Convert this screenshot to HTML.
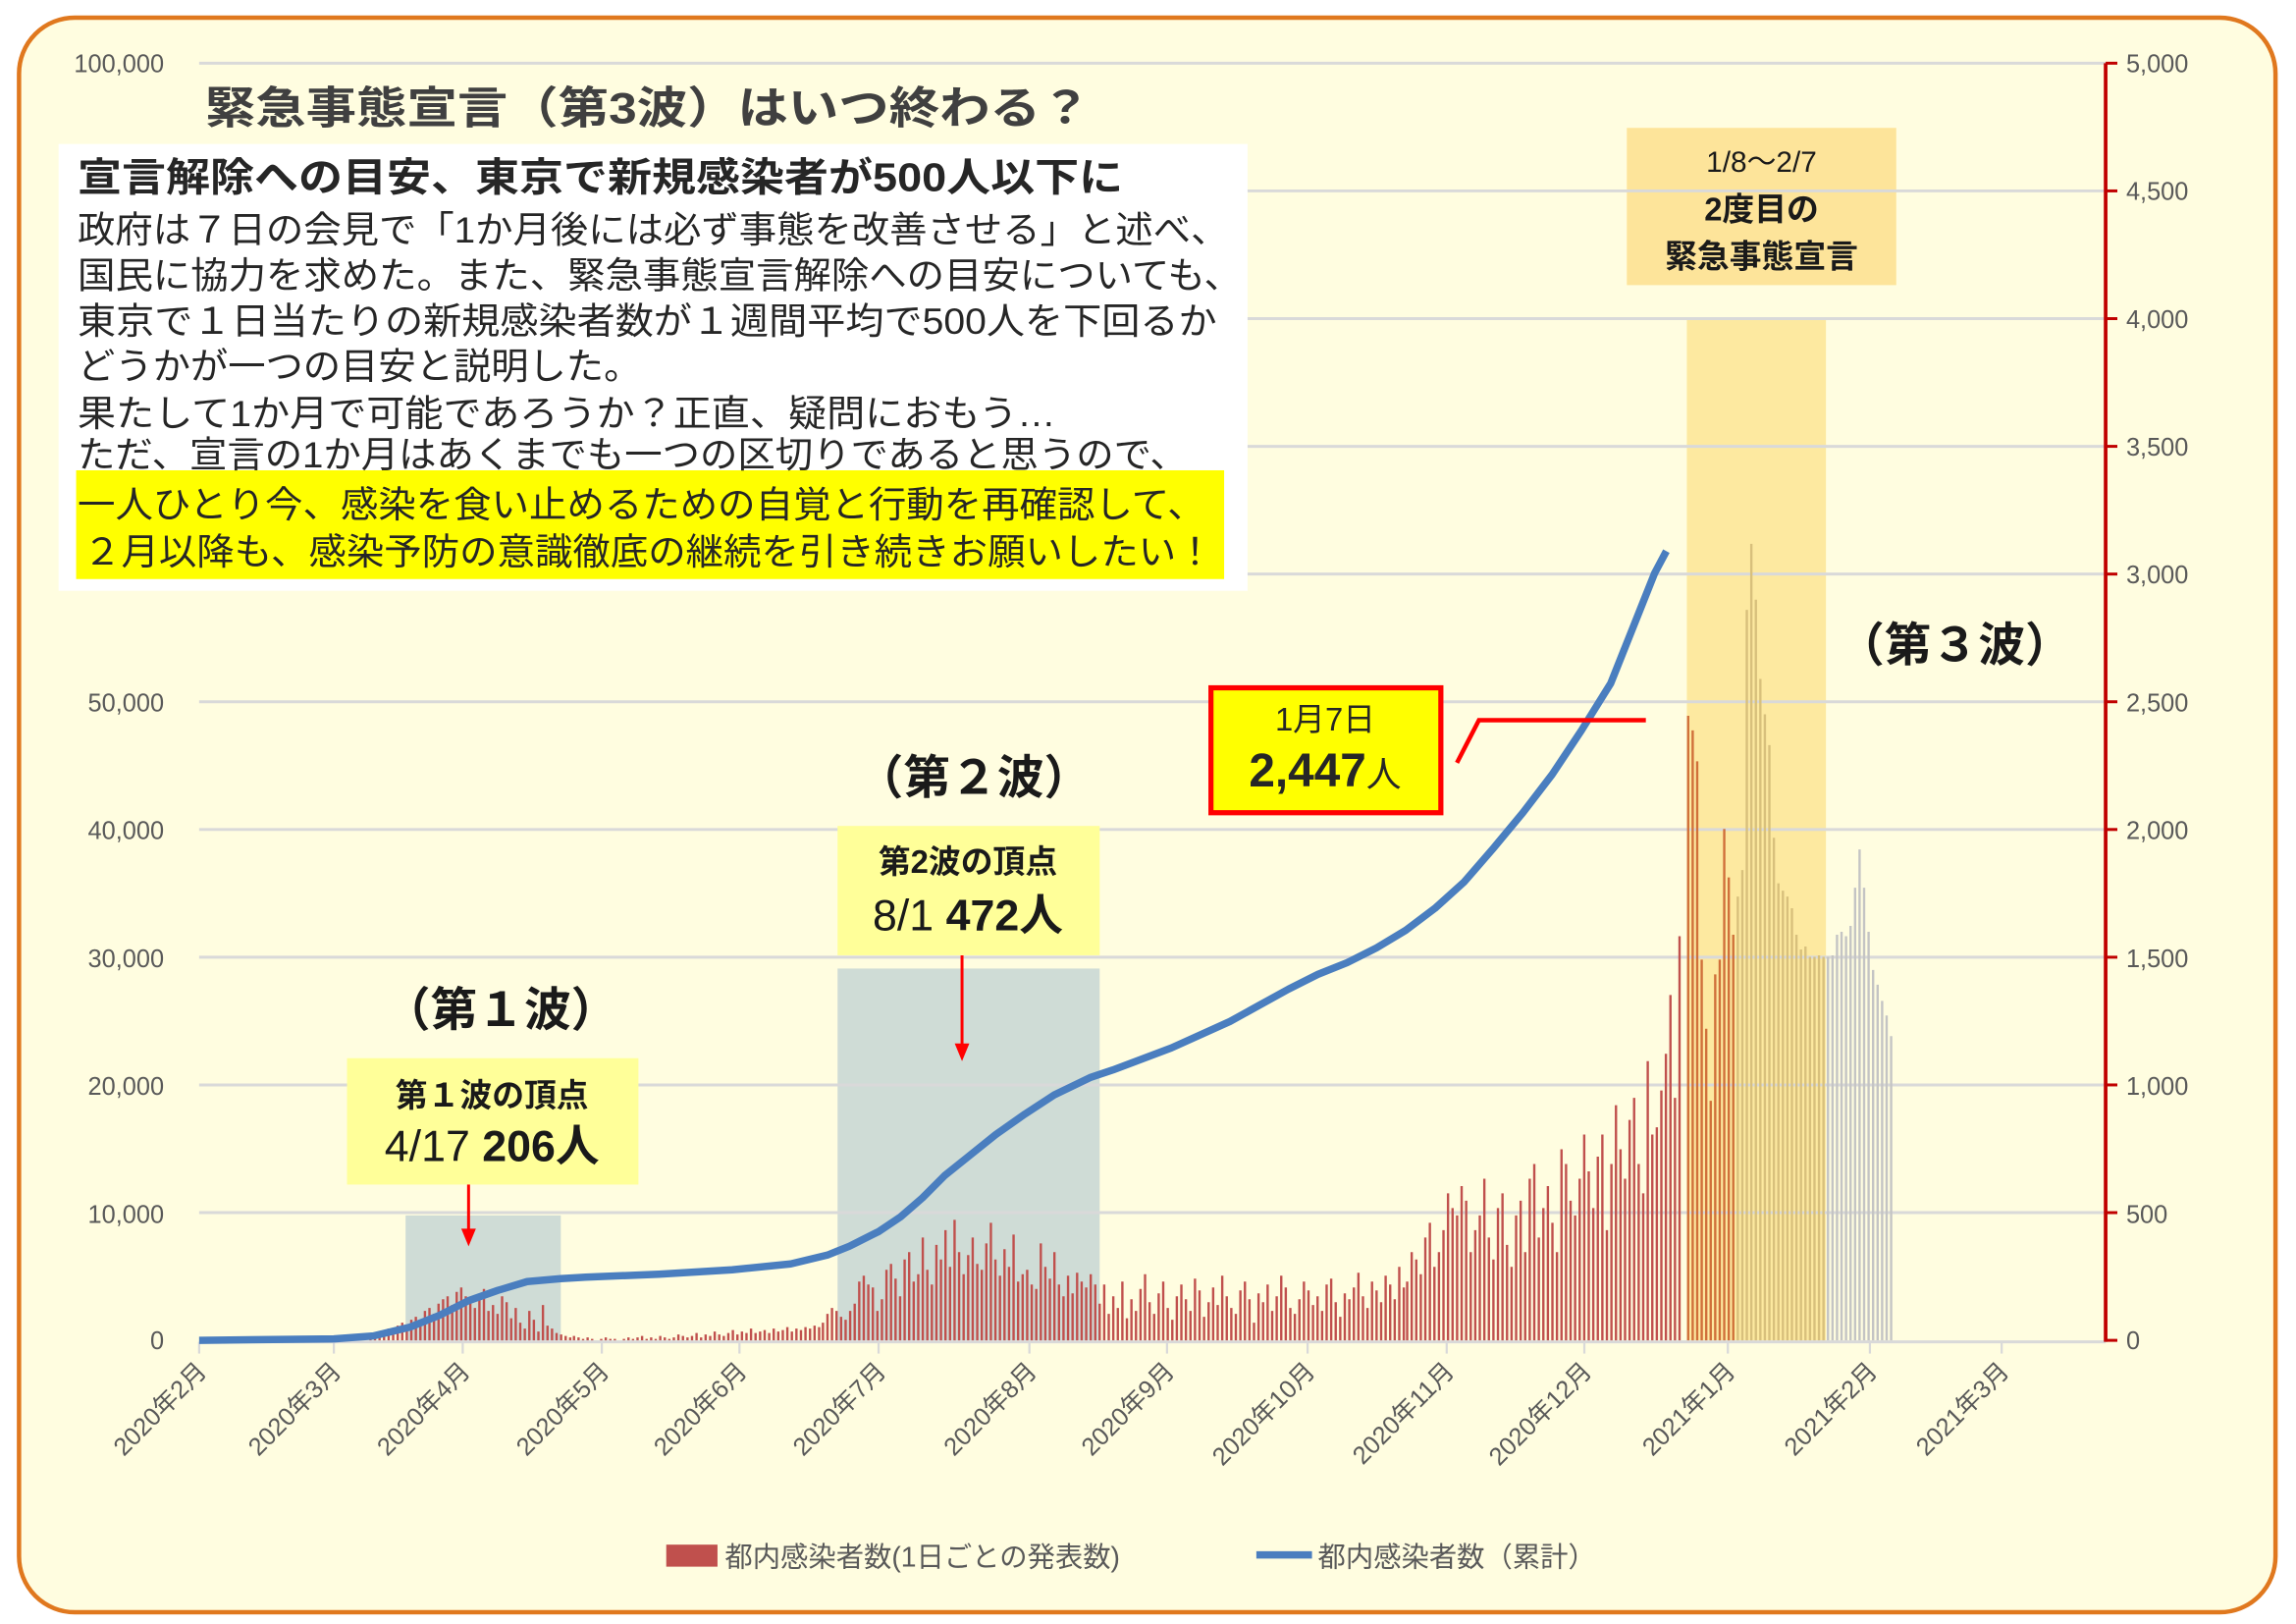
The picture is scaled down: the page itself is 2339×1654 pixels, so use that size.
<!DOCTYPE html>
<html><head><meta charset="utf-8"><style>
html,body{margin:0;padding:0;background:#fff;}
svg{display:block;}
text{font-family:"Liberation Sans","Noto Sans CJK JP",sans-serif;}
</style></head><body>
<svg width="2339" height="1654" viewBox="0 0 1568 1105" preserveAspectRatio="none" xmlns="http://www.w3.org/2000/svg">
<rect x="0" y="0" width="1568" height="1105" fill="#fff"/>
<rect x="13" y="12" width="1541" height="1085" rx="38" fill="#fffde0" stroke="#e0781e" stroke-width="3"/>
<rect x="277" y="827" width="106" height="85" fill="#cfdcd6"/>
<rect x="572" y="659" width="179" height="253" fill="#cfdcd6"/>
<rect x="1152" y="217" width="95" height="695" fill="#fde9a0"/>
<rect x="1111" y="87" width="184" height="107" fill="#fde49a"/>
<g stroke="#d9d9d9" stroke-width="2">
<line x1="136" y1="43" x2="1438" y2="43"/><line x1="136" y1="129.9" x2="1438" y2="129.9"/>
<line x1="136" y1="216.8" x2="1438" y2="216.8"/><line x1="136" y1="303.7" x2="1438" y2="303.7"/>
<line x1="136" y1="390.6" x2="1438" y2="390.6"/><line x1="136" y1="477.5" x2="1438" y2="477.5"/>
<line x1="136" y1="564.4" x2="1438" y2="564.4"/><line x1="136" y1="651.3" x2="1438" y2="651.3"/>
<line x1="136" y1="738.2" x2="1438" y2="738.2"/><line x1="136" y1="825.1" x2="1438" y2="825.1"/>
<line x1="136" y1="913" x2="1438" y2="913"/>
</g>
<g fill="none" stroke-width="1.6">
<path stroke="#c0504d" d="M253,912 v-3 m3.1,3 v-5 m3.1,5 v-4 m3.1,4 v-7 m3.1,7 v-8 m3.1,8 v-6 m3.1,6 v-10 m3.1,10 v-12 m3.1,12 v-9 m3.1,9 v-14 m3.1,14 v-16 m3.1,16 v-12 m3.1,12 v-20 m3.1,20 v-22 m3.1,22 v-18 m3.1,18 v-25 m3.1,25 v-28 m3.1,28 v-30 m3.1,30 v-24 m3.1,24 v-33 m3.1,33 v-36 m3.1,36 v-30 m3.1,30 v-26 m3.1,26 v-22 m3.1,22 v-28 m3.1,28 v-35 m3.1,35 v-20 m3.1,20 v-24 m3.1,24 v-18 m3.1,18 v-30 m3.1,30 v-26 m3.1,26 v-15 m3.1,15 v-22 m3.1,22 v-12 m3.1,12 v-8 m3.1,8 v-20 m3.1,20 v-14 m3.1,14 v-6 m3.1,6 v-24 m3.1,24 v-10 m3.1,10 v-8 m3.1,8 v-5 m3.1,5 v-4 m3.1,4 v-3 m3.1,3 v-2"/>
<path stroke="#c0504d" d="M392,912 v-3 m3.1,3 v-2 m3.1,2 v-1 m3.1,1 v-2 m3.1,2 v-1 m3.1,1 v0 m3.1,0 v-1 m3.1,1 v-2 m3.1,2 v-1 m3.1,1 v-1 m3.1,1 v0 m3.1,0 v-1 m3.1,1 v-2 m3.1,2 v-1 m3.1,1 v-2 m3.1,2 v-3 m3.1,3 v-1 m3.1,1 v-2 m3.1,2 v-1 m3.1,1 v-3 m3.1,3 v-2 m3.1,2 v-1 m3.1,1 v-2 m3.1,2 v-4 m3.1,4 v-3 m3.1,3 v-2 m3.1,2 v-3 m3.1,3 v-5 m3.1,5 v-2 m3.1,2 v-4 m3.1,4 v-3 m3.1,3 v-6 m3.1,6 v-4 m3.1,4 v-3 m3.1,3 v-5 m3.1,5 v-7 m3.1,7 v-4 m3.1,4 v-6 m3.1,6 v-5 m3.1,5 v-8 m3.1,8 v-5 m3.1,5 v-6 m3.1,6 v-7 m3.1,7 v-5 m3.1,5 v-8 m3.1,8 v-6 m3.1,6 v-7 m3.1,7 v-9 m3.1,9 v-6 m3.1,6 v-8 m3.1,8 v-7 m3.1,7 v-9 m3.1,9 v-8 m3.1,8 v-10 m3.1,10 v-9"/>
<path stroke="#c0504d" d="M562,912 v-12 m3.1,12 v-18 m3.1,18 v-22 m3.1,22 v-20 m3.1,20 v-16 m3.1,16 v-14 m3.1,14 v-20 m3.1,20 v-25 m3.1,25 v-40 m3.1,40 v-44 m3.1,44 v-38 m3.1,38 v-36 m3.1,36 v-20 m3.1,20 v-28 m3.1,28 v-48 m3.1,48 v-52 m3.1,52 v-42 m3.1,42 v-30 m3.1,30 v-55 m3.1,55 v-60 m3.1,60 v-40 m3.1,40 v-45 m3.1,45 v-70 m3.1,70 v-48 m3.1,48 v-38 m3.1,38 v-65 m3.1,65 v-55 m3.1,55 v-75 m3.1,75 v-50 m3.1,50 v-82 m3.1,82 v-60 m3.1,60 v-45 m3.1,45 v-58 m3.1,58 v-70 m3.1,70 v-52 m3.1,52 v-48 m3.1,48 v-66 m3.1,66 v-80 m3.1,80 v-55 m3.1,55 v-44 m3.1,44 v-62 m3.1,62 v-50 m3.1,50 v-72 m3.1,72 v-40 m3.1,40 v-45 m3.1,45 v-48 m3.1,48 v-38 m3.1,38 v-35 m3.1,35 v-66 m3.1,66 v-50 m3.1,50 v-42 m3.1,42 v-60 m3.1,60 v-38 m3.1,38 v-30 m3.1,30 v-44 m3.1,44 v-32 m3.1,32 v-46 m3.1,46 v-40 m3.1,40 v-36 m3.1,36 v-45 m3.1,45 v-38"/>
<path stroke="#c0504d" d="M751,912 v-25 m3.1,25 v-38 m3.1,38 v-18 m3.1,18 v-30 m3.1,30 v-22 m3.1,22 v-40 m3.1,40 v-15 m3.1,15 v-28 m3.1,28 v-20 m3.1,20 v-35 m3.1,35 v-45 m3.1,45 v-26 m3.1,26 v-18 m3.1,18 v-32 m3.1,32 v-40 m3.1,40 v-22 m3.1,22 v-14 m3.1,14 v-30 m3.1,30 v-38 m3.1,38 v-28 m3.1,28 v-20 m3.1,20 v-42 m3.1,42 v-34 m3.1,34 v-16 m3.1,16 v-26 m3.1,26 v-36 m3.1,36 v-24 m3.1,24 v-44 m3.1,44 v-30 m3.1,30 v-22 m3.1,22 v-18 m3.1,18 v-34 m3.1,34 v-40 m3.1,40 v-28 m3.1,28 v-12 m3.1,12 v-32 m3.1,32 v-26 m3.1,26 v-38 m3.1,38 v-20 m3.1,20 v-30 m3.1,30 v-44 m3.1,44 v-36 m3.1,36 v-22 m3.1,22 v-18 m3.1,18 v-28 m3.1,28 v-40 m3.1,40 v-34 m3.1,34 v-24 m3.1,24 v-30 m3.1,30 v-20 m3.1,20 v-38 m3.1,38 v-42 m3.1,42 v-26 m3.1,26 v-16 m3.1,16 v-32 m3.1,32 v-28 m3.1,28 v-36 m3.1,36 v-46 m3.1,46 v-30 m3.1,30 v-22 m3.1,22 v-40 m3.1,40 v-34 m3.1,34 v-26 m3.1,26 v-44 m3.1,44 v-38 m3.1,38 v-28 m3.1,28 v-50 m3.1,50 v-36"/>
<path stroke="#c0504d" d="M961,912 v-40 m3.1,40 v-60 m3.1,60 v-55 m3.1,55 v-45 m3.1,45 v-70 m3.1,70 v-80 m3.1,80 v-50 m3.1,50 v-60 m3.1,60 v-75 m3.1,75 v-100 m3.1,100 v-90 m3.1,90 v-85 m3.1,85 v-105 m3.1,105 v-95 m3.1,95 v-60 m3.1,60 v-75 m3.1,75 v-85 m3.1,85 v-110 m3.1,110 v-70 m3.1,70 v-55 m3.1,55 v-90 m3.1,90 v-100 m3.1,100 v-65 m3.1,65 v-50 m3.1,50 v-85 m3.1,85 v-95 m3.1,95 v-60 m3.1,60 v-110 m3.1,110 v-120 m3.1,120 v-70 m3.1,70 v-90 m3.1,90 v-105 m3.1,105 v-80 m3.1,80 v-60 m3.1,60 v-130 m3.1,130 v-120 m3.1,120 v-95 m3.1,95 v-85 m3.1,85 v-110 m3.1,110 v-140 m3.1,140 v-115 m3.1,115 v-90 m3.1,90 v-125 m3.1,125 v-140 m3.1,140 v-75 m3.1,75 v-120 m3.1,120 v-160 m3.1,160 v-130 m3.1,130 v-110 m3.1,110 v-150 m3.1,150 v-165 m3.1,165 v-120 m3.1,120 v-100 m3.1,100 v-190 m3.1,190 v-140 m3.1,140 v-145 m3.1,145 v-170 m3.1,170 v-195 m3.1,195 v-235 m3.1,235 v-165 m3.1,165 v-275"/>
<path stroke="#d0703a" d="M1152.9,912 v-425 m3.08,425 v-415 m3.08,415 v-394 m3.08,394 v-259 m3.08,259 v-212 m3.08,212 v-163 m3.08,163 v-249 m3.08,249 v-259 m3.08,259 v-348 m3.08,348 v-315 m3.08,315 v-276"/>
<path stroke="#d8c07c" d="M1186.8,912 v-302 m3.08,302 v-320 m3.08,320 v-497 m3.08,497 v-542 m3.08,542 v-504 m3.08,504 v-450 m3.08,450 v-426 m3.08,426 v-405 m3.08,405 v-342 m3.08,342 v-311 m3.08,311 v-306 m3.08,306 v-302 m3.08,302 v-294 m3.08,294 v-276 m3.08,276 v-266 m3.08,266 v-268 m3.08,268 v-261 m3.08,261 v-261 m3.08,261 v-262 m3.08,262 v-261"/>
<path stroke="#c4c4c4" d="M1248.4,912 v-261 m3.08,261 v-262 m3.08,262 v-276 m3.08,276 v-278 m3.08,278 v-275 m3.08,275 v-282 m3.08,282 v-308 m3.08,308 v-334 m3.08,334 v-308 m3.08,308 v-278 m3.08,278 v-252 m3.08,252 v-242 m3.08,242 v-231 m3.08,231 v-221 m3.08,221 v-207"/>
</g>
<g stroke="#d9d9d9" stroke-width="1.5">
<line x1="136" y1="913" x2="136" y2="921"/><line x1="228" y1="913" x2="228" y2="921"/><line x1="316" y1="913" x2="316" y2="921"/><line x1="411" y1="913" x2="411" y2="921"/><line x1="505" y1="913" x2="505" y2="921"/><line x1="600" y1="913" x2="600" y2="921"/><line x1="703" y1="913" x2="703" y2="921"/><line x1="797" y1="913" x2="797" y2="921"/><line x1="893" y1="913" x2="893" y2="921"/><line x1="988" y1="913" x2="988" y2="921"/><line x1="1082" y1="913" x2="1082" y2="921"/><line x1="1180" y1="913" x2="1180" y2="921"/><line x1="1277" y1="913" x2="1277" y2="921"/><line x1="1367" y1="913" x2="1367" y2="921"/>
</g>
<polyline fill="none" stroke="#4a7ebf" stroke-width="5" stroke-linejoin="round" points="136,912 228,911 255,909 280,903 300,895 320,885 340,878 360,872 383,870 400,869 450,867 500,864 540,860 565,854 580,848 600,838 615,828 630,815 645,800 660,788 680,772 700,758 720,745 745,733 760,728 800,713 840,695 860,684 880,673 900,663 920,655 940,645 960,633 980,618 1000,600 1020,577 1040,553 1060,527 1080,497 1100,465 1110,440 1120,415 1130,390 1138,375"/>
<line x1="1438" y1="43" x2="1438" y2="913" stroke="#c00000" stroke-width="2.5"/>
<g stroke="#c00000" stroke-width="2">
<line x1="1438" y1="43" x2="1446" y2="43"/><line x1="1438" y1="129.9" x2="1446" y2="129.9"/><line x1="1438" y1="216.8" x2="1446" y2="216.8"/><line x1="1438" y1="303.7" x2="1446" y2="303.7"/><line x1="1438" y1="390.6" x2="1446" y2="390.6"/><line x1="1438" y1="477.5" x2="1446" y2="477.5"/><line x1="1438" y1="564.4" x2="1446" y2="564.4"/><line x1="1438" y1="651.3" x2="1446" y2="651.3"/><line x1="1438" y1="738.2" x2="1446" y2="738.2"/><line x1="1438" y1="825.1" x2="1446" y2="825.1"/><line x1="1438" y1="912" x2="1446" y2="912"/>
</g>
<g fill="#595959" font-size="17">
<text x="112" y="49" text-anchor="end">100,000</text>
<text x="112" y="484" text-anchor="end">50,000</text>
<text x="112" y="571" text-anchor="end">40,000</text>
<text x="112" y="658" text-anchor="end">30,000</text>
<text x="112" y="745" text-anchor="end">20,000</text>
<text x="112" y="832" text-anchor="end">10,000</text>
<text x="112" y="918" text-anchor="end">0</text>
<text x="1452" y="49">5,000</text><text x="1452" y="136">4,500</text><text x="1452" y="223">4,000</text><text x="1452" y="310">3,500</text><text x="1452" y="397">3,000</text><text x="1452" y="484">2,500</text><text x="1452" y="571">2,000</text><text x="1452" y="658">1,500</text><text x="1452" y="745">1,000</text><text x="1452" y="832">500</text><text x="1452" y="918">0</text>
</g>
<g fill="#595959" font-size="17" text-anchor="end">
<text x="142" y="934" transform="rotate(-45 142 934)">2020年2月</text>
<text x="234" y="934" transform="rotate(-45 234 934)">2020年3月</text>
<text x="322" y="934" transform="rotate(-45 322 934)">2020年4月</text>
<text x="417" y="934" transform="rotate(-45 417 934)">2020年5月</text>
<text x="511" y="934" transform="rotate(-45 511 934)">2020年6月</text>
<text x="606" y="934" transform="rotate(-45 606 934)">2020年7月</text>
<text x="709" y="934" transform="rotate(-45 709 934)">2020年8月</text>
<text x="803" y="934" transform="rotate(-45 803 934)">2020年9月</text>
<text x="899" y="934" transform="rotate(-45 899 934)">2020年10月</text>
<text x="994" y="934" transform="rotate(-45 994 934)">2020年11月</text>
<text x="1088" y="934" transform="rotate(-45 1088 934)">2020年12月</text>
<text x="1186" y="934" transform="rotate(-45 1186 934)">2021年1月</text>
<text x="1283" y="934" transform="rotate(-45 1283 934)">2021年2月</text>
<text x="1373" y="934" transform="rotate(-45 1373 934)">2021年3月</text>
</g>
<rect x="40" y="98" width="812" height="304" fill="#fff"/>
<rect x="52" y="320" width="784" height="74" fill="#ffff00"/>
<text x="140" y="84" font-size="30" font-weight="bold" fill="#404040" textLength="605" lengthAdjust="spacingAndGlyphs">緊急事態宣言（第3波）はいつ終わる？</text>
<g fill="#262626" font-size="25">
<text x="53" y="130" font-weight="bold" font-size="27" textLength="714" lengthAdjust="spacingAndGlyphs">宣言解除への目安、東京で新規感染者が500人以下に</text>
<text x="53" y="165" textLength="786" lengthAdjust="spacingAndGlyphs">政府は７日の会見で「1か月後には必ず事態を改善させる」と述べ、</text>
<text x="53" y="196" textLength="795" lengthAdjust="spacingAndGlyphs">国民に協力を求めた。また、緊急事態宣言解除への目安についても、</text>
<text x="53" y="227" textLength="778" lengthAdjust="spacingAndGlyphs">東京で１日当たりの新規感染者数が１週間平均で500人を下回るか</text>
<text x="53" y="258" textLength="385" lengthAdjust="spacingAndGlyphs">どうかが一つの目安と説明した。</text>
<text x="53" y="290" textLength="668" lengthAdjust="spacingAndGlyphs">果たして1か月で可能であろうか？正直、疑問におもう…</text>
<text x="53" y="318" textLength="758" lengthAdjust="spacingAndGlyphs">ただ、宣言の1か月はあくまでも一つの区切りであると思うので、</text>
<text x="53" y="352" textLength="770" lengthAdjust="spacingAndGlyphs">一人ひとり今、感染を食い止めるための自覚と行動を再確認して、</text>
<text x="57" y="384" textLength="772" lengthAdjust="spacingAndGlyphs">２月以降も、感染予防の意識徹底の継続を引き続きお願いしたい！</text>
</g>
<g fill="#1a1a1a" font-weight="bold">
<text x="262" y="698" font-size="32">（第１波）</text>
<text x="585" y="540" font-size="32">（第２波）</text>
<text x="1255" y="450" font-size="32">（第３波）</text>
</g>
<rect x="237" y="720" width="199" height="86" fill="#ffff99"/>
<text x="336" y="753" font-size="22" font-weight="bold" text-anchor="middle" fill="#1a1a1a">第１波の頂点</text>
<text x="336" y="790" font-size="30" text-anchor="middle" fill="#1a1a1a">4/17  <tspan font-weight="bold">206人</tspan></text>
<rect x="572" y="562" width="179" height="88" fill="#ffff99"/>
<text x="661" y="594" font-size="22" font-weight="bold" text-anchor="middle" fill="#1a1a1a">第2波の頂点</text>
<text x="661" y="633" font-size="30" text-anchor="middle" fill="#1a1a1a">8/1  <tspan font-weight="bold">472人</tspan></text>
<g stroke="#ff0000" stroke-width="2" fill="#ff0000">
<line x1="320" y1="806" x2="320" y2="838"/><polygon points="315,836 325,836 320,848" stroke="none"/>
<line x1="657" y1="650" x2="657" y2="712"/><polygon points="652,710 662,710 657,722" stroke="none"/>
</g>
<rect x="827" y="468" width="157" height="85" fill="#ffff00" stroke="#ff0000" stroke-width="3.5"/>
<text x="905" y="497" font-size="22" text-anchor="middle" fill="#262626">1月7日</text>
<text x="905" y="535" font-size="32" font-weight="bold" text-anchor="middle" fill="#262626">2,447<tspan font-size="24" font-weight="normal">人</tspan></text>
<polyline points="995,519 1010,490 1124,490" fill="none" stroke="#ff0000" stroke-width="3"/>
<text x="1203" y="117" font-size="20" text-anchor="middle" fill="#1a1a1a">1/8～2/7</text>
<text x="1203" y="150" font-size="22" font-weight="bold" text-anchor="middle" fill="#1a1a1a">2度目の</text>
<text x="1203" y="182" font-size="22" font-weight="bold" text-anchor="middle" fill="#1a1a1a">緊急事態宣言</text>
<rect x="455" y="1051" width="35" height="15" fill="#c0504d"/>
<text x="495" y="1066" font-size="19" fill="#595959">都内感染者数(1日ごとの発表数)</text>
<line x1="858" y1="1058" x2="896" y2="1058" stroke="#4a7ebf" stroke-width="5"/>
<text x="900" y="1066" font-size="19" fill="#595959">都内感染者数（累計）</text>
</svg>
</body></html>
